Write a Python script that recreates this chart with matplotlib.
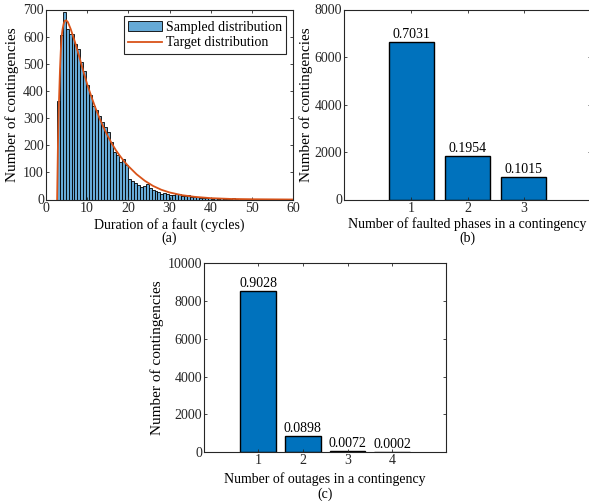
import numpy as np
import matplotlib
matplotlib.use('Agg')
import matplotlib.pyplot as plt

plt.rcParams['font.family'] = ['Liberation Serif', 'DejaVu Serif']
plt.rcParams['font.size'] = 10

# (a) histogram of fault durations, bins start at 2.6 cycles, width ~0.72
bin_start = 2.6
bin_width = 0.72
hist_counts = [362, 605, 691, 628, 610, 610, 572, 555, 505, 475,
               422, 385, 344, 330, 308, 287, 268, 250, 211, 176,
               164, 139, 148, 127, 75, 68, 60, 53, 47, 50,
               57, 41, 35, 30, 28, 22, 25, 20, 18, 15,
               20, 22, 14, 12, 18, 10, 11, 8, 7, 6,
               5, 4, 3, 4, 2, 5, 2, 3, 1, 5,
               1, 0, 1, 1, 0, 0, 1, 0, 2]

# target distribution
target_x = [2.7, 2.9, 3.15, 3.4, 3.6, 3.8, 4.0, 4.3, 4.6, 4.9, 5.3, 6.0, 7.0, 8.0, 9.0,
            10.0, 11.0, 12.0, 13.0, 14.0, 15.0, 16.0, 17.0, 18.0, 19.0, 20.0,
            22.0, 24.0, 26.0, 28.0, 30.0, 33.0, 36.0, 40.0, 45.0, 50.0, 60.0]
target_y = [0, 200, 360, 480, 550, 600, 625, 648, 659, 660, 654, 628, 582, 530, 476,
            425, 380, 338, 300, 265, 234, 206, 181, 160, 140, 123,
            93, 69, 50, 36, 26, 16, 10, 5, 2, 1, 0]

# (b) faulted phases
phases = [1, 2, 3]
phase_counts = [6644, 1847, 959]
phase_frac = ['0.7031', '0.1954', '0.1015']

# (c) outages
outages = [1, 2, 3, 4]
outage_counts = [8532, 849, 68, 2]
outage_frac = ['0.9028', '0.0898', '0.0072', '0.0002']

edge_gray = '#262626'
bar_blue = '#0072BD'
hist_blue = '#66AAD7'
curve_orange = '#D95319'


def style_axes(ax, xlab_y, tag_y, ylab_x, tag):
    for s in ax.spines.values():
        s.set_color(edge_gray)
        s.set_linewidth(0.8)
    ax.tick_params(direction='in', length=2.5, width=0.6, colors=edge_gray,
                   labelcolor='#262626', top=True, right=True, pad=1.5)
    ax.xaxis.set_label_coords(0.5, xlab_y)
    ax.xaxis.label.set_va('center')
    ax.yaxis.set_label_coords(ylab_x, 0.5)
    ax.yaxis.label.set_va('center')
    ax.yaxis.label.set_fontsize(11)
    ax.text(0.5, tag_y, tag, transform=ax.transAxes, ha='center', va='center')


W, H = 589, 501
fig = plt.figure(figsize=(W / 100, H / 100), dpi=100)

# ---- (a)
ax1 = fig.add_axes([46 / W, 1 - 199.5 / H, 247 / W, 190 / H])
edges = bin_start + bin_width * np.arange(len(hist_counts))
h_bar = ax1.bar(edges, hist_counts, width=bin_width, align='edge', color=hist_blue,
                edgecolor='black', linewidth=0.6)
h_line, = ax1.plot(target_x, target_y, color=curve_orange, linewidth=1.3)
ax1.set_xlim(0, 60)
ax1.set_ylim(0, 700)
ax1.set_xticks(range(0, 61, 10))
ax1.set_yticks(range(0, 701, 100))
ax1.set_xlabel('Duration of a fault (cycles)')
ax1.set_ylabel('Number of contingencies')
leg = ax1.legend([h_bar, h_line], ['Sampled distribution', 'Target distribution'],
                 loc='upper right', fancybox=False, framealpha=1, edgecolor=edge_gray,
                 handlelength=2.4, borderaxespad=0.5, borderpad=0.3, labelspacing=0.2,
                 handletextpad=0.3)
leg.get_frame().set_linewidth(0.8)
style_axes(ax1, -0.132, -0.203, -0.138, '(a)')

# ---- (b)
ax2 = fig.add_axes([344 / W, 1 - 199.5 / H, 247 / W, 190 / H])
bars = ax2.bar(phases, phase_counts, width=0.8, color=bar_blue, edgecolor='black', linewidth=1.0)
for b, lab in zip(bars, phase_frac):
    ax2.text(b.get_x() + b.get_width() / 2, b.get_height() + 30, lab,
             ha='center', va='bottom')
ax2.set_xlim(-0.2, 4.2)
ax2.set_ylim(0, 8000)
ax2.set_xticks(phases)
ax2.set_yticks(range(0, 8001, 2000))
ax2.set_xlabel('Number of faulted phases in a contingency')
ax2.set_ylabel('Number of contingencies')
style_axes(ax2, -0.132, -0.203, -0.155, '(b)')

# ---- (c)
ax3 = fig.add_axes([204.3 / W, 1 - 452 / H, 241.7 / W, 188.7 / H])
bars = ax3.bar(outages, outage_counts, width=0.8, color=bar_blue, edgecolor='black', linewidth=1.0)
for b, lab in zip(bars, outage_frac):
    ax3.text(b.get_x() + b.get_width() / 2, b.get_height() + 30, lab,
             ha='center', va='bottom')
ax3.set_xlim(-0.2, 5.2)
ax3.set_ylim(0, 10000)
ax3.set_xticks(outages)
ax3.set_yticks(range(0, 10001, 2000))
ax3.set_xlabel('Number of outages in a contingency')
ax3.set_ylabel('Number of contingencies')
style_axes(ax3, -0.143, -0.222, -0.195, '(c)')

fig.savefig('out.png', dpi=100)
